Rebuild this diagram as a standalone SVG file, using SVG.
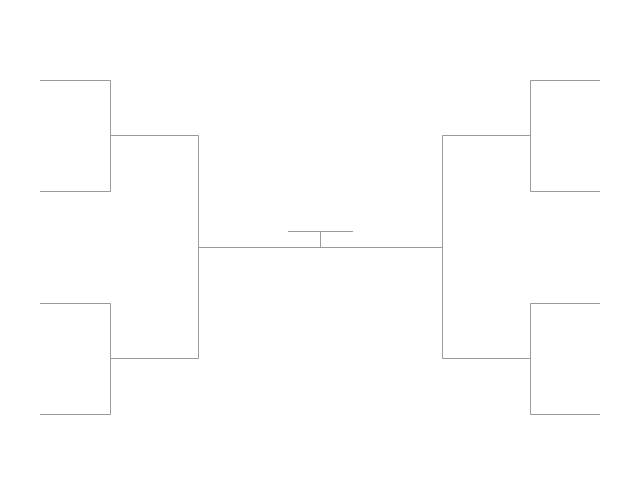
<svg xmlns="http://www.w3.org/2000/svg" width="641" height="495" viewBox="0 0 641 495">
<style>.c{fill:none;stroke:#9a9a9a;stroke-width:1}</style>
<rect width="641" height="495" fill="#fff"/>
<g id="connectors">
<path class="c" d="M40 80.5H110.5V191.5H40M110.5 135.5H198.5V358.5H110.5M40 303.5H110.5V414.5H40"/>
<path class="c" d="M600 80.5H530.5V191.5H600M530.5 135.5H442.5V358.5H530.5M600 303.5H530.5V414.5H600"/>
<path class="c" d="M198.5 247.5H442.5M320.5 247.5V231.5M288 231.5H353"/>
</g>
</svg>
